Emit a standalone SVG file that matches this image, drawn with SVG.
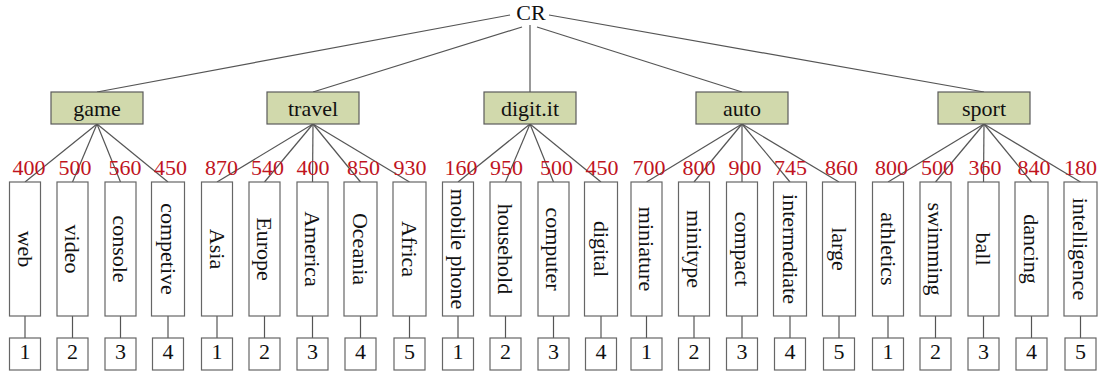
<svg xmlns="http://www.w3.org/2000/svg" width="1101" height="380" viewBox="0 0 1101 380">
<style>
text{font-family:"Liberation Serif","Times New Roman",serif;font-size:22px;fill:#111;text-anchor:middle}
.cat rect{fill:#D1D9AC;stroke:#5a5a5a;stroke-width:1.2}
.leaf rect,.num rect{fill:#fff;stroke:#666;stroke-width:1.2}
.val{fill:#C0141E}
#connectors line{stroke:#555;stroke-width:1.2}
</style>
<rect width="1101" height="380" fill="#fff"/>
<g id="connectors">
<line x1="510" y1="15" x2="97" y2="92"/>
<line x1="522" y1="27" x2="313" y2="92"/>
<line x1="530" y1="25" x2="530" y2="92"/>
<line x1="537" y1="27" x2="742" y2="92"/>
<line x1="549" y1="15" x2="984" y2="92"/>
<line x1="97" y1="124" x2="25" y2="182"/><line x1="97" y1="124" x2="72.5" y2="182"/><line x1="97" y1="124" x2="120.5" y2="182"/><line x1="97" y1="124" x2="168" y2="182"/>
<line x1="313" y1="124" x2="217" y2="182"/><line x1="313" y1="124" x2="264.5" y2="182"/><line x1="313" y1="124" x2="312.5" y2="182"/><line x1="313" y1="124" x2="360.5" y2="182"/><line x1="313" y1="124" x2="409.5" y2="182"/>
<line x1="530" y1="124" x2="458" y2="182"/><line x1="530" y1="124" x2="505.5" y2="182"/><line x1="530" y1="124" x2="553.5" y2="182"/><line x1="530" y1="124" x2="601" y2="182"/>
<line x1="742" y1="124" x2="646.5" y2="182"/><line x1="742" y1="124" x2="694" y2="182"/><line x1="742" y1="124" x2="742" y2="182"/><line x1="742" y1="124" x2="790" y2="182"/><line x1="742" y1="124" x2="839" y2="182"/>
<line x1="984" y1="124" x2="888" y2="182"/><line x1="984" y1="124" x2="935.5" y2="182"/><line x1="984" y1="124" x2="983.5" y2="182"/><line x1="984" y1="124" x2="1031.5" y2="182"/><line x1="984" y1="124" x2="1080.5" y2="182"/>
<line x1="25" y1="316" x2="25" y2="338"/><line x1="72.5" y1="316" x2="72.5" y2="338"/><line x1="120.5" y1="316" x2="120.5" y2="338"/><line x1="168" y1="316" x2="168" y2="338"/>
<line x1="217" y1="316" x2="217" y2="338"/><line x1="264.5" y1="316" x2="264.5" y2="338"/><line x1="312.5" y1="316" x2="312.5" y2="338"/><line x1="360.5" y1="316" x2="360.5" y2="338"/><line x1="409.5" y1="316" x2="409.5" y2="338"/>
<line x1="458" y1="316" x2="458" y2="338"/><line x1="505.5" y1="316" x2="505.5" y2="338"/><line x1="553.5" y1="316" x2="553.5" y2="338"/><line x1="601" y1="316" x2="601" y2="338"/>
<line x1="646.5" y1="316" x2="646.5" y2="338"/><line x1="694" y1="316" x2="694" y2="338"/><line x1="742" y1="316" x2="742" y2="338"/><line x1="790" y1="316" x2="790" y2="338"/><line x1="839" y1="316" x2="839" y2="338"/>
<line x1="888" y1="316" x2="888" y2="338"/><line x1="935.5" y1="316" x2="935.5" y2="338"/><line x1="983.5" y1="316" x2="983.5" y2="338"/><line x1="1031.5" y1="316" x2="1031.5" y2="338"/><line x1="1080.5" y1="316" x2="1080.5" y2="338"/>
</g>
<g id="root"><text x="531" y="20">CR</text></g>
<g id="game" class="cat"><rect x="51" y="92" width="92" height="32"/><text x="97" y="115.5">game</text></g>
<g id="travel" class="cat"><rect x="267" y="92" width="92" height="32"/><text x="313" y="115.5">travel</text></g>
<g id="digit" class="cat"><rect x="484" y="92" width="92" height="32"/><text x="530" y="115.5">digit.it</text></g>
<g id="auto" class="cat"><rect x="696" y="92" width="92" height="32"/><text x="742" y="115.5">auto</text></g>
<g id="sport" class="cat"><rect x="938" y="92" width="92" height="32"/><text x="984" y="115.5">sport</text></g>
<g id="values">
<text class="val" x="29" y="175">400</text><text class="val" x="75" y="175">500</text><text class="val" x="125" y="175">560</text><text class="val" x="170.5" y="175">450</text>
<text class="val" x="221.5" y="175">870</text><text class="val" x="267.5" y="175">540</text><text class="val" x="313" y="175">400</text><text class="val" x="363.5" y="175">850</text><text class="val" x="410" y="175">930</text>
<text class="val" x="461" y="175">160</text><text class="val" x="506.5" y="175">950</text><text class="val" x="556.5" y="175">500</text><text class="val" x="602" y="175">450</text>
<text class="val" x="649" y="175">700</text><text class="val" x="699" y="175">800</text><text class="val" x="745" y="175">900</text><text class="val" x="790.5" y="175">745</text><text class="val" x="841.5" y="175">860</text>
<text class="val" x="891.5" y="175">800</text><text class="val" x="937.5" y="175">500</text><text class="val" x="985" y="175">360</text><text class="val" x="1034" y="175">840</text><text class="val" x="1080.5" y="175">180</text>
</g>
<g id="leaf-web" class="leaf"><rect x="9.5" y="182" width="31" height="134"/><text transform="translate(25,249) rotate(90)" dy="0.33em">web</text></g>
<g id="leaf-video" class="leaf"><rect x="57" y="182" width="31" height="134"/><text transform="translate(72.5,249) rotate(90)" dy="0.33em">video</text></g>
<g id="leaf-console" class="leaf"><rect x="105" y="182" width="31" height="134"/><text transform="translate(120.5,249) rotate(90)" dy="0.33em">console</text></g>
<g id="leaf-competive" class="leaf"><rect x="151.5" y="182" width="33" height="134"/><text transform="translate(168,249) rotate(90)" dy="0.33em">competive</text></g>
<g id="leaf-asia" class="leaf"><rect x="201.5" y="182" width="31" height="134"/><text transform="translate(217,249) rotate(90)" dy="0.33em">Asia</text></g>
<g id="leaf-europe" class="leaf"><rect x="249" y="182" width="31" height="134"/><text transform="translate(264.5,249) rotate(90)" dy="0.33em">Europe</text></g>
<g id="leaf-america" class="leaf"><rect x="297" y="182" width="31" height="134"/><text transform="translate(312.5,249) rotate(90)" dy="0.33em">America</text></g>
<g id="leaf-oceania" class="leaf"><rect x="344" y="182" width="33" height="134"/><text transform="translate(360.5,249) rotate(90)" dy="0.33em">Oceania</text></g>
<g id="leaf-africa" class="leaf"><rect x="393" y="182" width="33" height="134"/><text transform="translate(409.5,249) rotate(90)" dy="0.33em">Africa</text></g>
<g id="leaf-mobile" class="leaf"><rect x="442.5" y="182" width="31" height="134"/><text transform="translate(458,249) rotate(90)" dy="0.33em">mobile phone</text></g>
<g id="leaf-household" class="leaf"><rect x="490" y="182" width="31" height="134"/><text transform="translate(505.5,249) rotate(90)" dy="0.33em">household</text></g>
<g id="leaf-computer" class="leaf"><rect x="538" y="182" width="31" height="134"/><text transform="translate(553.5,249) rotate(90)" dy="0.33em">computer</text></g>
<g id="leaf-digital" class="leaf"><rect x="584.5" y="182" width="33" height="134"/><text transform="translate(601,249) rotate(90)" dy="0.33em">digital</text></g>
<g id="leaf-miniature" class="leaf"><rect x="631" y="182" width="31" height="134"/><text transform="translate(646.5,249) rotate(90)" dy="0.33em">miniature</text></g>
<g id="leaf-minitype" class="leaf"><rect x="678.5" y="182" width="31" height="134"/><text transform="translate(694,249) rotate(90)" dy="0.33em">minitype</text></g>
<g id="leaf-compact" class="leaf"><rect x="726.5" y="182" width="31" height="134"/><text transform="translate(742,249) rotate(90)" dy="0.33em">compact</text></g>
<g id="leaf-intermediate" class="leaf"><rect x="773.5" y="182" width="33" height="134"/><text transform="translate(790,249) rotate(90)" dy="0.33em">intermediate</text></g>
<g id="leaf-large" class="leaf"><rect x="822.5" y="182" width="33" height="134"/><text transform="translate(839,249) rotate(90)" dy="0.33em">large</text></g>
<g id="leaf-athletics" class="leaf"><rect x="872.5" y="182" width="31" height="134"/><text transform="translate(888,249) rotate(90)" dy="0.33em">athletics</text></g>
<g id="leaf-swimming" class="leaf"><rect x="920" y="182" width="31" height="134"/><text transform="translate(935.5,249) rotate(90)" dy="0.33em">swimming</text></g>
<g id="leaf-ball" class="leaf"><rect x="968" y="182" width="31" height="134"/><text transform="translate(983.5,249) rotate(90)" dy="0.33em">ball</text></g>
<g id="leaf-dancing" class="leaf"><rect x="1015" y="182" width="33" height="134"/><text transform="translate(1031.5,249) rotate(90)" dy="0.33em">dancing</text></g>
<g id="leaf-intelligence" class="leaf"><rect x="1064" y="182" width="33" height="134"/><text transform="translate(1080.5,249) rotate(90)" dy="0.33em">intelligence</text></g>
<g id="n-web" class="num"><rect x="9.5" y="338" width="31" height="32"/><text x="25" y="358.5">1</text></g>
<g id="n-video" class="num"><rect x="57" y="338" width="31" height="32"/><text x="72.5" y="358.5">2</text></g>
<g id="n-console" class="num"><rect x="105" y="338" width="31" height="32"/><text x="120.5" y="358.5">3</text></g>
<g id="n-competive" class="num"><rect x="152.5" y="338" width="31" height="32"/><text x="168" y="358.5">4</text></g>
<g id="n-asia" class="num"><rect x="201.5" y="338" width="31" height="32"/><text x="217" y="358.5">1</text></g>
<g id="n-europe" class="num"><rect x="249" y="338" width="31" height="32"/><text x="264.5" y="358.5">2</text></g>
<g id="n-america" class="num"><rect x="297" y="338" width="31" height="32"/><text x="312.5" y="358.5">3</text></g>
<g id="n-oceania" class="num"><rect x="345" y="338" width="31" height="32"/><text x="360.5" y="358.5">4</text></g>
<g id="n-africa" class="num"><rect x="394" y="338" width="31" height="32"/><text x="409.5" y="358.5">5</text></g>
<g id="n-mobile" class="num"><rect x="442.5" y="338" width="31" height="32"/><text x="458" y="358.5">1</text></g>
<g id="n-household" class="num"><rect x="490" y="338" width="31" height="32"/><text x="505.5" y="358.5">2</text></g>
<g id="n-computer" class="num"><rect x="538" y="338" width="31" height="32"/><text x="553.5" y="358.5">3</text></g>
<g id="n-digital" class="num"><rect x="585.5" y="338" width="31" height="32"/><text x="601" y="358.5">4</text></g>
<g id="n-miniature" class="num"><rect x="631" y="338" width="31" height="32"/><text x="646.5" y="358.5">1</text></g>
<g id="n-minitype" class="num"><rect x="678.5" y="338" width="31" height="32"/><text x="694" y="358.5">2</text></g>
<g id="n-compact" class="num"><rect x="726.5" y="338" width="31" height="32"/><text x="742" y="358.5">3</text></g>
<g id="n-intermediate" class="num"><rect x="774.5" y="338" width="31" height="32"/><text x="790" y="358.5">4</text></g>
<g id="n-large" class="num"><rect x="823.5" y="338" width="31" height="32"/><text x="839" y="358.5">5</text></g>
<g id="n-athletics" class="num"><rect x="872.5" y="338" width="31" height="32"/><text x="888" y="358.5">1</text></g>
<g id="n-swimming" class="num"><rect x="920" y="338" width="31" height="32"/><text x="935.5" y="358.5">2</text></g>
<g id="n-ball" class="num"><rect x="968" y="338" width="31" height="32"/><text x="983.5" y="358.5">3</text></g>
<g id="n-dancing" class="num"><rect x="1016" y="338" width="31" height="32"/><text x="1031.5" y="358.5">4</text></g>
<g id="n-intelligence" class="num"><rect x="1065" y="338" width="31" height="32"/><text x="1080.5" y="358.5">5</text></g>
</svg>
